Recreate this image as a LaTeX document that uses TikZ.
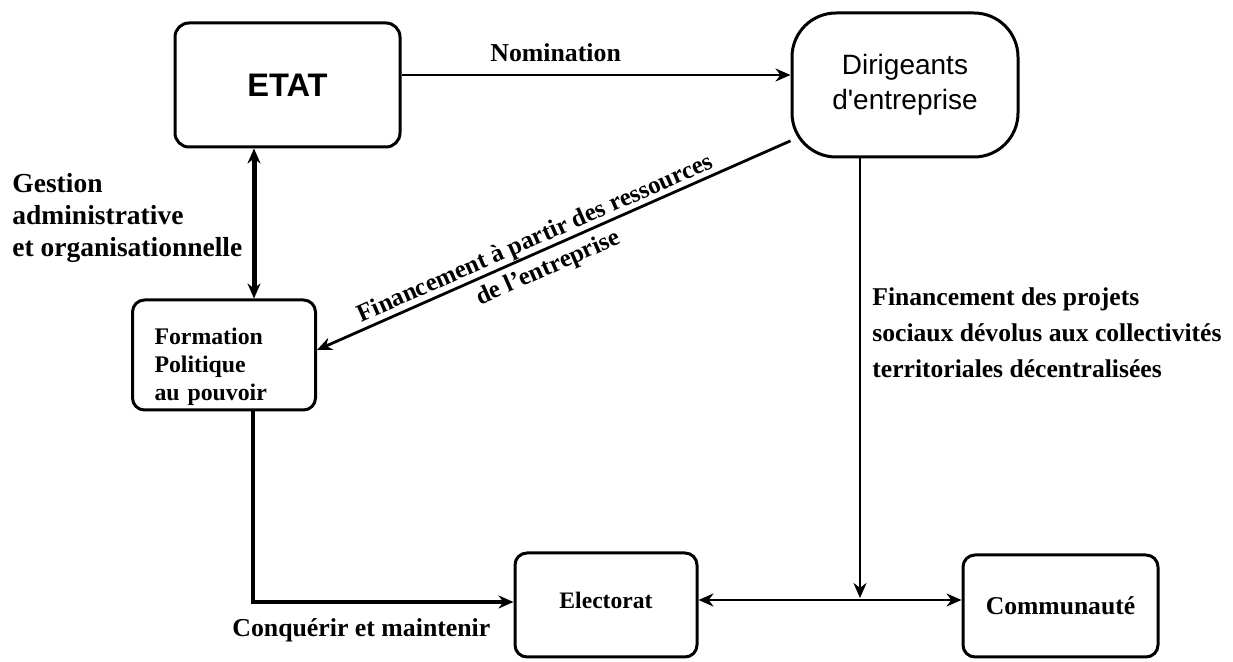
\documentclass[tikz,border=0pt]{standalone}
\usepackage{fontspec}
\setmainfont{Liberation Serif}
\newfontfamily\sansf{Liberation Sans}
\usetikzlibrary{arrows.meta,calc}
\begin{document}
\begin{tikzpicture}[x=0.5pt,y=-0.5pt,
  box/.style={draw,line width=1.5pt,rounded corners=7pt,inner sep=0pt},
  mytip/.tip={Stealth[length=7.5pt,width=6.5pt]},
  arr/.style={line width=1.4pt,-mytip},
  lbl/.style={inner sep=0pt,font=\bfseries}
]
\useasboundingbox (0,0) rectangle (1233,662);
% boxes
\node[box,minimum width=112.5pt,minimum height=62pt,font=\sansf\bfseries\fontsize{16.3}{19}\selectfont] (etat) at (287.5,85) {ETAT};
\node[box,rounded corners=22pt,minimum width=113pt,minimum height=72pt,align=center,font=\sansf\fontsize{14}{17.5}\selectfont] (dir) at (905,85) {Dirigeants\\d'entreprise};
\node[box,rounded corners=6pt,minimum width=91.5pt,minimum height=55pt,text width=69.5pt,inner xsep=11pt,align=left,font=\bfseries\fontsize{11.9}{14}\selectfont] (form) at (224,355) {\rule{0pt}{20pt}Formation\\Politique\\au pouvoir};
\node[box,rounded corners=6pt,minimum width=91pt,minimum height=52pt,font=\bfseries\fontsize{11.8}{14}\selectfont] (elect) at (606,605) {\raisebox{5pt}{Electorat}};
\node[box,rounded corners=6pt,minimum width=97.5pt,minimum height=51pt,font=\bfseries\fontsize{12.8}{15}\selectfont] (comm) at (1060.5,606) {Communauté};
% helper coordinates
\coordinate (va) at (254,0);
\coordinate (vx) at (860,0);
\coordinate (jn) at (860,600);
\coordinate (corner) at (253,602);
% connectors
\draw[arr] ([yshift=5pt]etat.east) -- ([yshift=5pt]dir.west);
\draw[line width=2.5pt,mytip-mytip] (etat.south -| va) -- (form.north -| va);
\draw[arr] (dir.206) -- ([yshift=2.5pt]form.east);
\draw[arr] (dir.south -| vx) -- ([yshift=1pt]jn);
\draw[line width=1.4pt,mytip-mytip] (elect.east |- jn) -- (comm.west |- jn);
\draw[arr,line width=2pt] (form.south -| corner) -- (corner) -- (elect.west |- corner);
% labels
\node[lbl,anchor=base west,font=\bfseries\fontsize{12.9}{15}\selectfont] (nom) at (490,62) {Nomination};
\node[lbl,anchor=north west,align=left,font=\bfseries\fontsize{13.75}{16}\selectfont] (gest) at (12,173) {Gestion\\administrative\\et organisationnelle};
\node[lbl,rotate=23.7,align=center,font=\bfseries\fontsize{12.5}{16}\selectfont] (finr) at (542,254) {Financement à partir des ressources\\de l'entreprise};
\node[lbl,anchor=north west,align=left,font=\bfseries\fontsize{12.8}{18}\selectfont] (finp) at (872,287) {Financement des projets\\sociaux dévolus aux collectivités\\territoriales décentralisées};
\node[lbl,anchor=base west,font=\bfseries\fontsize{12.9}{15}\selectfont] (conq) at (232,637) {Conquérir et maintenir};
\end{tikzpicture}
\end{document}
